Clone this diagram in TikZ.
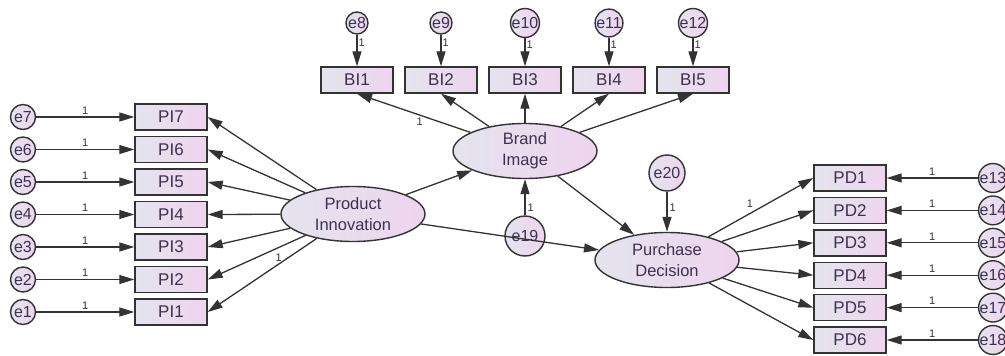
\documentclass[tikz,border=0pt]{standalone}
\usepackage{fontspec}
\setmainfont{Liberation Sans}
\usetikzlibrary{arrows.meta,shapes.geometric}
\definecolor{ln}{HTML}{333333}
\definecolor{boxL}{HTML}{E4E4EE}
\definecolor{boxR}{HTML}{EED4EE}
\definecolor{tx}{HTML}{3E3050}
\begin{document}
\begin{tikzpicture}[x=1pt,y=-1pt,
 obs/.style={draw=ln,line width=1.4pt,rectangle,minimum width=72pt,minimum height=26pt,inner sep=0pt,left color=boxL,right color=boxR,text=tx,font=\fontsize{17}{19}\selectfont},
 lat/.style={draw=ln,line width=1.4pt,ellipse,minimum width=144pt,minimum height=55pt,inner sep=0pt,left color=boxL,right color=boxR,text=tx,align=center,font=\fontsize{16.5}{21}\selectfont},
 err/.style={draw=ln,line width=1.4pt,circle,minimum size=25pt,inner sep=0pt,left color=boxL,right color=boxR,text=tx,font=\fontsize{16}{16}\selectfont},
 arr/.style={-{Triangle[length=15pt,width=9pt]},draw=ln,line width=1.3pt},
 one/.style={font=\fontsize{11}{11}\selectfont,text=ln,inner sep=2pt}]
\useasboundingbox (0,0) rectangle (1005,356);
% Latent variables
\node[lat] (PIn) at (353,214) {Product\\Innovation};
\node[lat] (BIm) at (525,151) {Brand\\Image};
\node[lat] (PDe) at (667,260) {Purchase\\Decision};
% Product innovation indicators
\foreach \i/\y in {7/117,6/149.5,5/182,4/214.5,3/247,2/279.5,1/312} {
  \node[err] (e\i) at (23,\y) {e\i};
  \node[obs] (PI\i) at (171,\y) {PI\i};
  \draw[arr] (e\i) -- node[one,above]{1} (PI\i);
}
\foreach \i in {7,6,5,4,3,2} { \draw[arr] (PIn) -- (PI\i.east); }
\draw[arr] (PIn) -- node[one,pos=0.35,above]{1} (PI1.east);
% Brand image indicators
\foreach \i/\e/\x in {1/8/357,2/9/441,3/10/525,4/11/609,5/12/693} {
  \node[err,minimum size=22pt] (e\e) at (\x,23) {e\e};
  \node[obs] (BI\i) at (\x,80) {BI\i};
  \draw[arr] (e\e) -- node[one,right,pos=0.25,inner sep=1pt]{1} (BI\i);
}
\draw[arr] (BIm) -- node[one,pos=0.45,below left,xshift=6pt]{1} (BI1.south);
\foreach \i in {2,3,4} { \draw[arr] (BIm) -- (BI\i.south); }
\draw[arr] (BIm) -- (BI5.south);
% Purchase decision indicators
\foreach \i/\e/\y in {1/13/178,2/14/210.4,3/15/242.8,4/16/275.2,5/17/307.6,6/18/340} {
  \node[err] (e\e) at (993,\y) {e\e};
  \node[obs] (PD\i) at (850,\y) {PD\i};
  \draw[arr] (e\e) -- node[one,above]{1} (PD\i);
}
\draw[arr] (PDe) -- node[one,pos=0.45,above left]{1} (PD1.west);
\foreach \i in {2,3,4,5,6} { \draw[arr] (PDe) -- (PD\i.west); }
% Structural part
\node[err,minimum size=40pt] (e19) at (525,236) {e19};
\node[err,minimum size=36pt] (e20) at (667,173) {e20};
\draw[arr] (PIn) -- (BIm);
\draw[arr] (PIn) -- (PDe);
\draw[arr] (BIm) -- (PDe);
\draw[arr] (e19) -- node[one,right,pos=0.2]{1} (BIm);
\draw[arr] (e20) -- node[one,right,pos=0.4]{1} (PDe);
\end{tikzpicture}
\end{document}
